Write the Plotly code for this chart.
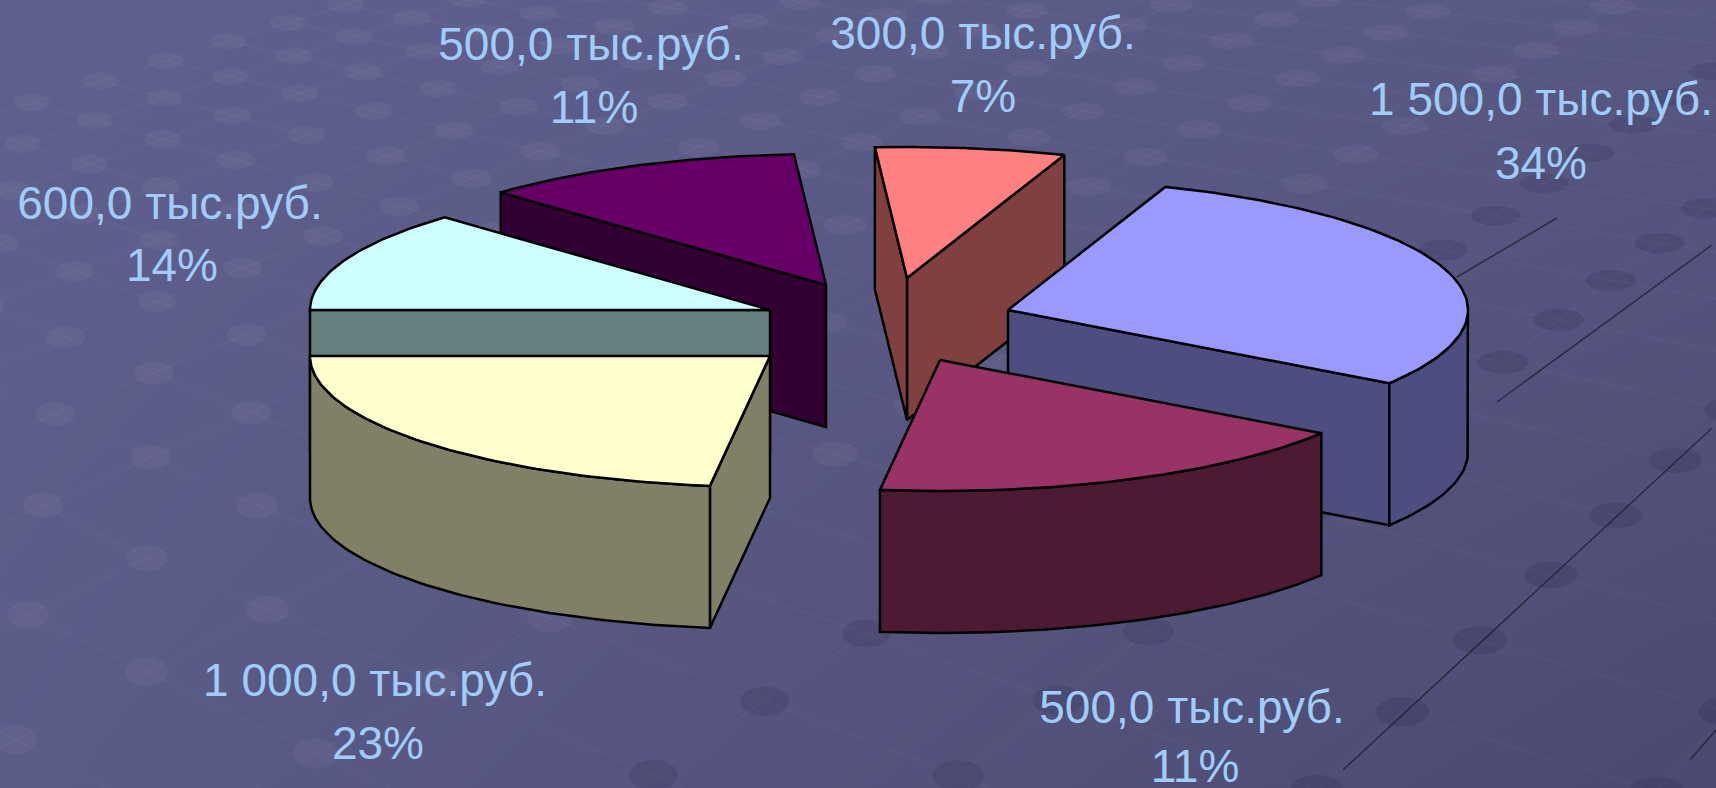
import numpy as np
import plotly.graph_objects as go

# ---- data ----
amount_labels = ["1 500,0 тыс.руб.", "500,0 тыс.руб.", "1 000,0 тыс.руб.", "600,0 тыс.руб.", "500,0 тыс.руб.", "300,0 тыс.руб."]
percent_values = [34, 11, 23, 14, 11, 7]
# angular size of every slice as actually drawn (degrees, clockwise from the start angle)
drawn_degrees = [104, 63.5, 82.5, 45, 41, 24]

# ---- styling / layout ----
W, H = 1716, 788
START = 70.0
RX, RY, DEPTH = 460, 131, 142
apex_x = [1008, 940, 770, 770, 826, 907]
apex_y = [310, 360, 356, 310, 285, 278]
top_colors = ["#9999ff", "#993366", "#ffffcc", "#ccffff", "#660066", "#ff8080"]
side_colors = ["#4d4d80", "#4d1a33", "#808066", "#668080", "#330033", "#804040"]
draw_order = [4, 5, 3, 0, 2, 1]
label_x = [1541, 1192, 375, 170, 591, 983]
label_y = [103, 711, 684, 207, 48, 37]
pct_x = [1541, 1195, 378, 172, 594, 983]
pct_y = [167, 770, 747, 269, 111, 100]
TEXT = "#9fcdf8"
FONT = "Liberation Sans"

fig = go.Figure()

# background gradient
fig.add_trace(go.Heatmap(
    x=[0, W], y=[0, H], z=[[1.0, 0.62], [0.78, 0.0]], zsmooth="best", showscale=False,
    colorscale=[[0, "rgb(74,74,112)"], [1, "rgb(96,96,143)"]], hoverinfo="skip"))

# background perspective floor (decorative texture of the slide)
VA = np.array([-1740.0, -400.0])
VB = np.array([3100.0, -850.0])
O = np.array([147.0, 558.0])
WA, WB = -0.0556, 0.0387
u_lines = [-8.4, -7.35, -6.3, -5.25, -4.2, -3.15, -2.1, -1.05, 0, 1, 2.25, 3.6, 4.65, 5.88, 6.94, 8, 9, 10, 11]
v_lines = list(range(-8, 30))
dark_segments = [((1457, 277), (1557, 218)), ((1497, 402), (1712, 245)),
                 ((1343, 770), (1712, 428)), ((1690, 760), (1716, 730))]


def P(u, v):
    v = v + 0.08 * max(u, 0)
    d = u * WA + v * WB + 1
    return (u * WA * VA + v * WB * VB + O) / d


lx, ly = [], []
for u in u_lines:
    for t in np.linspace(-8, 29, 75):
        p = P(u, t)
        lx.append(p[0]); ly.append(p[1])
    lx.append(None); ly.append(None)
for v in v_lines:
    for t in np.linspace(-8.4, 11, 60):
        p = P(t, v)
        lx.append(p[0]); ly.append(p[1])
    lx.append(None); ly.append(None)
fig.add_trace(go.Scatter(x=lx, y=ly, mode="lines", line=dict(color="rgba(255,255,255,0.03)", width=1.5), hoverinfo="skip"))

sx, sy = [], []
for a, b in dark_segments:
    sx += [a[0], b[0], None]
    sy += [a[1], b[1], None]
fig.add_trace(go.Scatter(x=sx, y=sy, mode="lines", line=dict(color="rgba(30,30,45,0.75)", width=1.5), hoverinfo="skip"))

light = ([], [])
dark = ([], [])
th = np.linspace(0, 2 * np.pi, 25)
for u in u_lines:
    for v in v_lines:
        p = P(u, v)
        if not (-40 < p[0] < W + 40 and -40 < p[1] < H + 40):
            continue
        rx = 17 + 0.004 * p[0] + 0.006 * p[1]
        ry = 8 + 0.0095 * p[1]
        bucket = light if p[0] / W + 0.6 * p[1] / H < 0.965 else dark
        bucket[0].extend(list(p[0] + rx * np.cos(th)) + [None])
        bucket[1].extend(list(p[1] + ry * np.sin(th)) + [None])
fig.add_trace(go.Scatter(x=light[0], y=light[1], mode="lines", fill="toself", fillcolor="rgba(255,255,255,0.04)", line=dict(width=0), hoverinfo="skip"))
fig.add_trace(go.Scatter(x=dark[0], y=dark[1], mode="lines", fill="toself", fillcolor="rgba(20,20,50,0.12)", line=dict(width=0), hoverinfo="skip"))

# slices
bounds = START - np.cumsum([0] + drawn_degrees)


def polygon(xs, ys, color):
    fig.add_trace(go.Scatter(x=list(xs) + [xs[0]], y=list(ys) + [ys[0]], mode="lines", fill="toself",
                             fillcolor=color, line=dict(color="#000000", width=2.5), hoverinfo="skip"))


for i in draw_order:
    hi, lo = bounds[i], bounds[i + 1]  # arc runs counter-clockwise from lo to hi
    ax, ay = apex_x[i], apex_y[i]
    t = np.radians(np.linspace(lo, hi, 80))
    ex, ey = ax + RX * np.cos(t), ay - RY * np.sin(t)
    # cut faces visible from the front
    if np.cos(np.radians(lo)) > 0:
        polygon([ax, ex[0], ex[0], ax], [ay, ey[0], ey[0] + DEPTH, ay + DEPTH], side_colors[i])
    if np.cos(np.radians(hi)) < 0:
        polygon([ax, ex[-1], ex[-1], ax], [ay, ey[-1], ey[-1] + DEPTH, ay + DEPTH], side_colors[i])
    # outer wall: front half of the rim
    m = np.sin(t) <= 0
    if m.sum() > 1:
        wx, wy = ex[m], ey[m]
        polygon(np.r_[wx, wx[::-1]], np.r_[wy, wy[::-1] + DEPTH], side_colors[i])
    # top
    polygon(np.r_[ax, ex], np.r_[ay, ey], top_colors[i])

# labels
fig.add_trace(go.Scatter(x=label_x, y=label_y, mode="text", text=amount_labels, textposition="middle center",
                         textfont=dict(family=FONT, size=46, color=TEXT), hoverinfo="skip"))
fig.add_trace(go.Scatter(x=pct_x, y=pct_y, mode="text", text=[f"{p}%" for p in percent_values], textposition="middle center",
                         textfont=dict(family=FONT, size=46, color=TEXT), hoverinfo="skip"))

fig.update_layout(
    width=W, height=H, margin=dict(l=0, r=0, t=0, b=0), showlegend=False,
    paper_bgcolor="#55557f", plot_bgcolor="#55557f",
    xaxis=dict(range=[0, W], visible=False, fixedrange=True),
    yaxis=dict(range=[H, 0], visible=False, fixedrange=True),
)
fig.write_html("out.html", config=dict(displayModeBar=False),
               post_script="document.body.style.margin='0';document.documentElement.style.overflow='hidden';")
